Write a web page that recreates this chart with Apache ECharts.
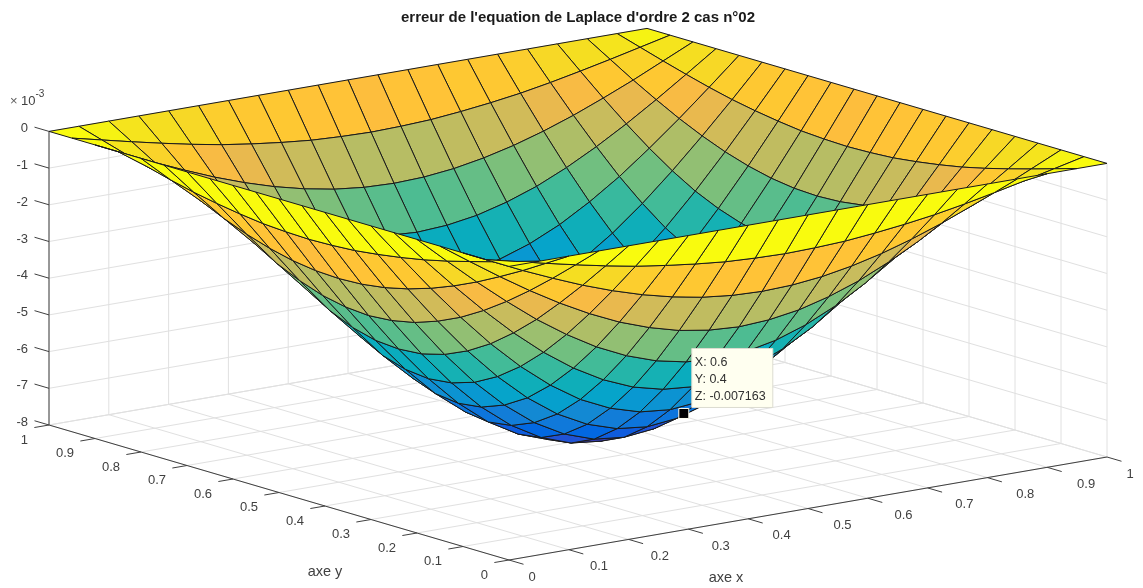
<!DOCTYPE html>
<html>
<head>
<meta charset="utf-8">
<style>html,body{margin:0;padding:0;background:#fff}#c{width:1143px;height:588px}</style>
<script src="https://cdn.jsdelivr.net/npm/echarts@6/dist/echarts.min.js"></script>
</head>
<body>
<div id="c"></div>
<script>
const titleText = "erreur de l'equation de Laplace d'ordre 2 cas n°02";
const axeXName = 'axe x';
const axeYName = 'axe y';
const axeX = [0,0.05,0.1,0.15,0.2,0.25,0.3,0.35,0.4,0.45,0.5,0.55,0.6,0.65,0.7,0.75,0.8,0.85,0.9,0.95,1];
const axeY = [0,0.05,0.1,0.15,0.2,0.25,0.3,0.35,0.4,0.45,0.5,0.55,0.6,0.65,0.7,0.75,0.8,0.85,0.9,0.95,1];
const xyTicks = [0,0.1,0.2,0.3,0.4,0.5,0.6,0.7,0.8,0.9,1];
const zTicks = [0,-1,-2,-3,-4,-5,-6,-7,-8];
// erreur (x 10^-3), rows by x, columns by y
const erreur = [
[0,0,0,0,0,0,0,0,0,0,0,0,0,0,0,0,0,0,0,0,0],
[0,-0.19,-0.38,-0.56,-0.73,-0.88,-1.00,-1.10,-1.18,-1.22,-1.24,-1.22,-1.18,-1.10,-1.00,-0.88,-0.73,-0.56,-0.38,-0.19,0],
[0,-0.38,-0.76,-1.11,-1.44,-1.73,-1.98,-2.18,-2.33,-2.42,-2.45,-2.42,-2.33,-2.18,-1.98,-1.73,-1.44,-1.11,-0.76,-0.38,0],
[0,-0.56,-1.11,-1.63,-2.11,-2.54,-2.91,-3.20,-3.42,-3.55,-3.60,-3.55,-3.42,-3.20,-2.91,-2.54,-2.11,-1.63,-1.11,-0.56,0],
[0,-0.73,-1.44,-2.11,-2.74,-3.29,-3.77,-4.15,-4.43,-4.60,-4.65,-4.60,-4.43,-4.15,-3.77,-3.29,-2.74,-2.11,-1.44,-0.73,0],
[0,-0.88,-1.73,-2.54,-3.29,-3.96,-4.53,-4.99,-5.33,-5.53,-5.60,-5.53,-5.33,-4.99,-4.53,-3.96,-3.29,-2.54,-1.73,-0.88,0],
[0,-1.00,-1.98,-2.91,-3.77,-4.53,-5.18,-5.71,-6.09,-6.33,-6.41,-6.33,-6.09,-5.71,-5.18,-4.53,-3.77,-2.91,-1.98,-1.00,0],
[0,-1.10,-2.18,-3.20,-4.15,-4.99,-5.71,-6.29,-6.71,-6.97,-7.06,-6.97,-6.71,-6.29,-5.71,-4.99,-4.15,-3.20,-2.18,-1.10,0],
[0,-1.18,-2.33,-3.42,-4.43,-5.33,-6.09,-6.71,-7.16,-7.44,-7.53,-7.44,-7.16,-6.71,-6.09,-5.33,-4.43,-3.42,-2.33,-1.18,0],
[0,-1.22,-2.42,-3.55,-4.60,-5.53,-6.33,-6.97,-7.44,-7.73,-7.82,-7.73,-7.44,-6.97,-6.33,-5.53,-4.60,-3.55,-2.42,-1.22,0],
[0,-1.24,-2.45,-3.60,-4.65,-5.60,-6.41,-7.06,-7.53,-7.82,-7.92,-7.82,-7.53,-7.06,-6.41,-5.60,-4.65,-3.60,-2.45,-1.24,0],
[0,-1.22,-2.42,-3.55,-4.60,-5.53,-6.33,-6.97,-7.44,-7.73,-7.82,-7.73,-7.44,-6.97,-6.33,-5.53,-4.60,-3.55,-2.42,-1.22,0],
[0,-1.18,-2.33,-3.42,-4.43,-5.33,-6.09,-6.71,-7.163,-7.44,-7.53,-7.44,-7.16,-6.71,-6.09,-5.33,-4.43,-3.42,-2.33,-1.18,0],
[0,-1.10,-2.18,-3.20,-4.15,-4.99,-5.71,-6.29,-6.71,-6.97,-7.06,-6.97,-6.71,-6.29,-5.71,-4.99,-4.15,-3.20,-2.18,-1.10,0],
[0,-1.00,-1.98,-2.91,-3.77,-4.53,-5.18,-5.71,-6.09,-6.33,-6.41,-6.33,-6.09,-5.71,-5.18,-4.53,-3.77,-2.91,-1.98,-1.00,0],
[0,-0.88,-1.73,-2.54,-3.29,-3.96,-4.53,-4.99,-5.33,-5.53,-5.60,-5.53,-5.33,-4.99,-4.53,-3.96,-3.29,-2.54,-1.73,-0.88,0],
[0,-0.73,-1.44,-2.11,-2.74,-3.29,-3.77,-4.15,-4.43,-4.60,-4.65,-4.60,-4.43,-4.15,-3.77,-3.29,-2.74,-2.11,-1.44,-0.73,0],
[0,-0.56,-1.11,-1.63,-2.11,-2.54,-2.91,-3.20,-3.42,-3.55,-3.60,-3.55,-3.42,-3.20,-2.91,-2.54,-2.11,-1.63,-1.11,-0.56,0],
[0,-0.38,-0.76,-1.11,-1.44,-1.73,-1.98,-2.18,-2.33,-2.42,-2.45,-2.42,-2.33,-2.18,-1.98,-1.73,-1.44,-1.11,-0.76,-0.38,0],
[0,-0.19,-0.38,-0.56,-0.73,-0.88,-1.00,-1.10,-1.18,-1.22,-1.24,-1.22,-1.18,-1.10,-1.00,-0.88,-0.73,-0.56,-0.38,-0.19,0],
[0,0,0,0,0,0,0,0,0,0,0,0,0,0,0,0,0,0,0,0,0]
];
const tipPoint = [0.6, 0.4, -0.007163];
// parula colormap
const parula = [[.2081,.1663,.5292],[.2116,.1898,.5777],[.2123,.2138,.6270],[.2081,.2386,.6771],[.1959,.2645,.7279],[.1707,.2919,.7792],[.1253,.3242,.8303],[.0591,.3598,.8683],[.0117,.3875,.8820],[.0060,.4086,.8828],[.0165,.4266,.8786],[.0329,.4430,.8720],[.0498,.4586,.8641],[.0629,.4737,.8554],[.0723,.4887,.8467],[.0779,.5040,.8384],[.0793,.5200,.8312],[.0749,.5375,.8263],[.0641,.5570,.8240],[.0488,.5772,.8228],[.0343,.5966,.8199],[.0265,.6137,.8135],[.0239,.6287,.8038],[.0231,.6418,.7913],[.0228,.6535,.7768],[.0267,.6642,.7607],[.0384,.6743,.7436],[.0590,.6838,.7254],[.0843,.6928,.7062],[.1133,.7015,.6859],[.1453,.7098,.6646],[.1801,.7177,.6424],[.2178,.7250,.6193],[.2586,.7317,.5954],[.3022,.7376,.5712],[.3482,.7424,.5473],[.3953,.7459,.5244],[.4420,.7481,.5033],[.4871,.7491,.4840],[.5300,.7491,.4661],[.5709,.7485,.4494],[.6099,.7473,.4337],[.6473,.7456,.4188],[.6834,.7435,.4044],[.7184,.7411,.3905],[.7525,.7384,.3768],[.7858,.7356,.3633],[.8185,.7327,.3498],[.8507,.7299,.3360],[.8824,.7274,.3217],[.9139,.7258,.3063],[.9450,.7261,.2886],[.9739,.7314,.2666],[.9938,.7455,.2403],[.9990,.7653,.2164],[.9955,.7861,.1967],[.9880,.8066,.1794],[.9789,.8271,.1633],[.9697,.8481,.1475],[.9626,.8705,.1309],[.9589,.8949,.1132],[.9598,.9218,.0948],[.9661,.9514,.0755],[.9763,.9831,.0538]];

const FONT = '"Liberation Sans", Arial, sans-serif';
const TEXT = '#404040';
const W = 1143, H = 588;
// orthographic view of the 3D box onto the page plane
const view = {ox: 509, oy: 560, xx: 598, xy: -103, yx: -460, yy: -135, zs: 36.7, zBase: -8};
function project(x, y, z) {
  return [view.ox + view.xx * x + view.yx * y,
          view.oy + view.xy * x + view.yy * y - view.zs * (z - view.zBase)];
}
function colorOf(z) {
  const minZ = -7.92;
  const f = Math.min(0.999999, Math.max(0, (z - minZ) / (0 - minZ)));
  const c = parula[Math.floor(f * parula.length)];
  return 'rgb(' + c.map(v => Math.round(v * 255)).join(',') + ')';
}

// back walls and floor grid
const gridSegs = [];
xyTicks.forEach(t => {
  gridSegs.push([t,0,-8, t,1,-8]);
  gridSegs.push([0,t,-8, 1,t,-8]);
  gridSegs.push([t,1,-8, t,1,0]);
  gridSegs.push([1,t,-8, 1,t,0]);
});
zTicks.forEach(z => {
  gridSegs.push([0,1,z, 1,1,z]);
  gridSegs.push([1,0,z, 1,1,z]);
});
// axis lines and tick marks
const TX = 0.0245, TY = 0.0315;
const axisSegs = [[0,0,-8, 1,0,-8],[0,0,-8, 0,1,-8],[0,1,-8, 0,1,0]];
xyTicks.forEach(t => {
  axisSegs.push([t,0,-8, t,-TY,-8]);
  axisSegs.push([0,t,-8, -TX,t,-8]);
});
zTicks.forEach(z => axisSegs.push([0,1,z, 0,1+TY,z]));

// cells far to near
const cells = [];
for (let i = axeX.length - 2; i >= 0; i--) {
  for (let j = axeY.length - 2; j >= 0; j--) cells.push([i, j]);
}

// tick labels
const labels = [];
zTicks.forEach(z => {
  const p = project(0,1,z);
  labels.push({value:[p[0]-21,p[1]-2.5], text:String(z), align:'right', size:13});
});
xyTicks.forEach(t => {
  const py = project(0,t,-8);
  labels.push({value:[py[0]-21,py[1]+15], text:String(t), align:'right', size:13});
  const px = project(t,0,-8);
  const single = t === 0 || t === 1;
  labels.push({value:[px[0]+(single ? 19.5 : 20+t*11),px[1]+17], text:String(t), align:'left', size:13});
});
labels.push({value:[325,572], text:axeYName, align:'center', size:14.5});
labels.push({value:[726,578], text:axeXName, align:'center', size:14.5});

function segItem(color, width) {
  return function (params, api) {
    const a = project(api.value(0), api.value(1), api.value(2));
    const b = project(api.value(3), api.value(4), api.value(5));
    const p = api.coord(a), q = api.coord(b);
    return {type:'line', shape:{x1:p[0],y1:p[1],x2:q[0],y2:q[1]}, style:{stroke:color, lineWidth:width}};
  };
}

const chart = echarts.init(document.getElementById('c'), null, {renderer:'canvas'});
chart.setOption({
  animation:false,
  backgroundColor:'#fff',
  title:{text:titleText, left:573, top:5, textAlign:'center',
    textStyle:{fontFamily:FONT, fontSize:15, fontWeight:'bold', color:'#1a1a1a'}},
  grid:{left:0, right:0, top:0, bottom:0, containLabel:false},
  xAxis:{type:'value', min:0, max:W, show:false},
  yAxis:{type:'value', min:0, max:H, inverse:true, show:false},
  tooltip:{show:false},
  graphic:[{type:'text', left:10, top:89, silent:true, style:{
    text:'{a|×} {b|10}{c|-3}', font:'12px '+FONT,
    rich:{a:{fontFamily:FONT,fontSize:13,fill:'#606060',color:'#606060',padding:[6,0,0,0]},
          b:{fontFamily:FONT,fontSize:13,fill:TEXT,color:TEXT,padding:[6,0,0,0]},
          c:{fontFamily:FONT,fontSize:10,fill:TEXT,color:TEXT,verticalAlign:'top',padding:[0,0,0,0]}}
  }}],
  series:[
    {name:'grille', type:'custom', coordinateSystem:'cartesian2d', silent:true, clip:false, z:1,
     data:gridSegs, renderItem:segItem('#e0e0e0',1)},
    {name:'axes', type:'custom', coordinateSystem:'cartesian2d', silent:true, clip:false, z:2,
     data:axisSegs, renderItem:segItem('#404040',1)},
    {name:'erreur', type:'custom', coordinateSystem:'cartesian2d', silent:true, clip:false, z:3,
     data:cells,
     renderItem:function (params, api) {
       const i = api.value(0), j = api.value(1);
       const corners = [[i,j],[i+1,j],[i+1,j+1],[i,j+1]];
       const pts = corners.map(c => api.coord(project(axeX[c[0]], axeY[c[1]], erreur[c[0]][c[1]])));
       return {type:'polygon', shape:{points:pts},
         style:{fill:colorOf(erreur[i][j]), stroke:'#1a1a1a', lineWidth:1, lineJoin:'round'}};
     }},
    {name:'labels', type:'custom', coordinateSystem:'cartesian2d', silent:true, clip:false, z:4,
     data:labels,
     renderItem:function (params, api) {
       const d = labels[params.dataIndex];
       const p = api.coord(d.value);
       return {type:'text', x:p[0], y:p[1], style:{text:d.text, fontFamily:FONT, fontSize:d.size,
         fill:TEXT, textAlign:d.align, textVerticalAlign:'middle'}};
     }},
    {name:'datatip', type:'custom', coordinateSystem:'cartesian2d', silent:true, clip:false, z:5,
     data:[tipPoint],
     renderItem:function (params, api) {
       const p = api.coord(project(api.value(0), api.value(1), api.value(2) * 1000));
       const tipText = (s, dy) => ({type:'text', x:p[0]+11, y:p[1]+dy, style:{text:s, fontFamily:FONT, fontSize:12.5, fill:'#303030', textVerticalAlign:'middle'}});
       return {type:'group', children:[
         {type:'rect', shape:{x:p[0]+8, y:p[1]-65, width:81, height:59},
          style:{fill:'#fffff0', stroke:'#dcdcd0', lineWidth:1}},
         tipText('X: '+tipPoint[0], -51),
         tipText('Y: '+tipPoint[1], -34),
         tipText('Z: '+tipPoint[2], -17),
         {type:'rect', shape:{x:p[0]-5, y:p[1]-5, width:10, height:10},
          style:{fill:'#000', stroke:'#fffff0', lineWidth:1}}
       ]};
     }}
  ]
});
</script>
</body>
</html>
